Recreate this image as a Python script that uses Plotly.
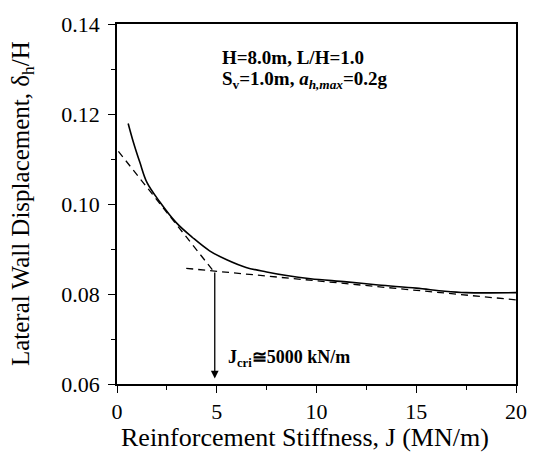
import plotly.graph_objects as go

# Data
J_curve = [0.56, 0.81, 1.15, 1.5, 2.14, 2.98, 3.8, 4.64, 5.5, 6.47, 7.5, 8.5, 9.7, 11.5, 13.1, 15.0, 16.44, 17.5, 20.0]
d_curve = [0.1179, 0.1139, 0.1092, 0.1048, 0.1005, 0.0958, 0.0925, 0.0896, 0.0876, 0.0859, 0.0849, 0.0841, 0.0834, 0.0827, 0.0820, 0.0813, 0.0806, 0.0803, 0.0803]

J_tan1 = [0.07, 4.85]
d_tan1 = [0.1117, 0.0850]
J_tan2 = [3.47, 20.0]
d_tan2 = [0.0857, 0.0787]

J_crit = 4.9
d_arrow_top = 0.0851
d_arrow_bottom = 0.0612

FONT = "Liberation Serif"

fig = go.Figure()
fig.add_trace(go.Scatter(x=J_curve, y=d_curve, mode="lines", line=dict(color="black", width=1.6), line_shape="spline", showlegend=False))
fig.add_trace(go.Scatter(x=J_tan1, y=d_tan1, mode="lines", line=dict(color="black", width=1.3, dash="7px,5px"), showlegend=False))
fig.add_trace(go.Scatter(x=J_tan2, y=d_tan2, mode="lines", line=dict(color="black", width=1.3, dash="7px,5px"), showlegend=False))

fig.add_annotation(x=J_crit, y=d_arrow_bottom, ax=J_crit, ay=d_arrow_top, xref="x", yref="y", axref="x", ayref="y",
                   showarrow=True, arrowhead=2, arrowsize=1.2, arrowwidth=1.3, arrowcolor="black", text="")
fig.add_annotation(x=5.45, y=0.0657, xref="x", yref="y", text="<b>J<sub>cri</sub>≅5000 kN/m</b>", showarrow=False,
                   xanchor="left", yanchor="middle", font=dict(family=FONT, size=18, color="black"))
fig.add_annotation(x=5.15, y=0.1325, xref="x", yref="y", text="<b>H=8.0m, L/H=1.0</b>", showarrow=False,
                   xanchor="left", yanchor="middle", font=dict(family=FONT, size=19, color="black"))
fig.add_annotation(x=5.15, y=0.1275, xref="x", yref="y", text="<b>S<sub>v</sub>=1.0m, <i>a</i><sub><i>h,max</i></sub>=0.2g</b>", showarrow=False,
                   xanchor="left", yanchor="middle", font=dict(family=FONT, size=19, color="black"))

# axis titles
fig.add_annotation(x=0.471, y=-0.148, xref="paper", yref="paper", text="Reinforcement Stiffness, J (MN/m)", showarrow=False,
                   xanchor="center", yanchor="middle", font=dict(family=FONT, size=26, color="black"))
fig.add_annotation(x=-0.238, y=0.5, xref="paper", yref="paper", text="Lateral Wall Displacement, δ<sub>h</sub>/H", showarrow=False,
                   textangle=-90, xanchor="center", yanchor="middle", font=dict(family=FONT, size=25, color="black"))

axis_common = dict(showgrid=False, zeroline=False, showline=True, linecolor="black", linewidth=1.5, mirror=True,
                   ticks="outside", ticklen=7, tickwidth=1.3, tickcolor="black",
                   tickfont=dict(family=FONT, size=22, color="black"))

fig.update_xaxes(range=[0, 20], dtick=5, tick0=0,
                 minor=dict(dtick=2.5, ticks="outside", ticklen=4, tickcolor="black"),
                 **axis_common)
fig.update_yaxes(range=[0.06, 0.14], dtick=0.02, tick0=0.06, tickformat=".2f", ticklabelstandoff=4,
                 minor=dict(dtick=0.01, ticks="outside", ticklen=4, tickcolor="black"),
                 **axis_common)

fig.update_layout(width=539, height=452, margin=dict(l=117, r=21, t=17, b=68),
                  plot_bgcolor="white", paper_bgcolor="white", font=dict(family=FONT, color="black"))

fig.write_html("out.html")
